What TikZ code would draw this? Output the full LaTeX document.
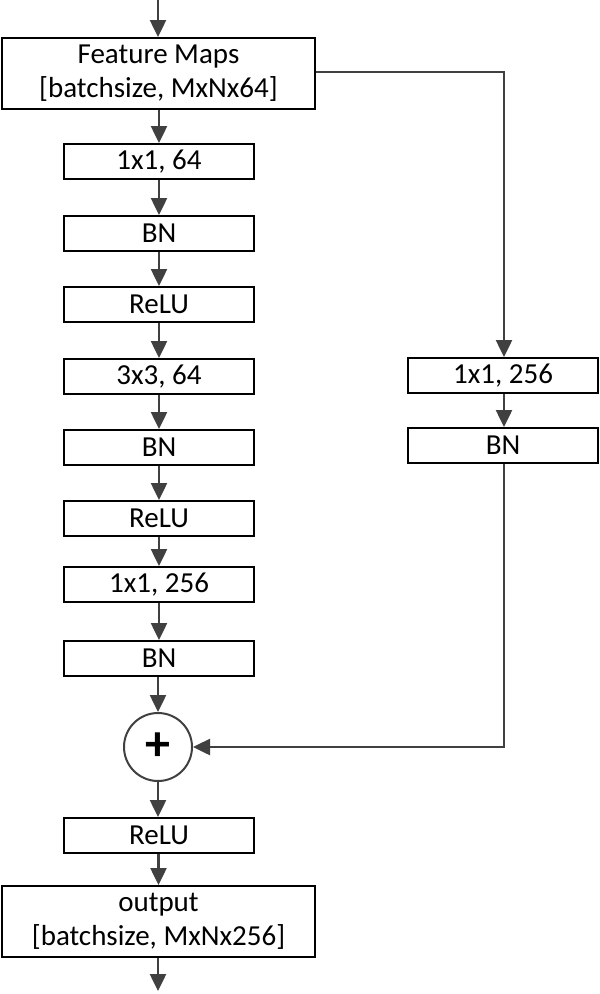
\documentclass[tikz,border=0pt]{standalone}
\usepackage{fontspec}
\setmainfont{Carlito}
\usetikzlibrary{arrows.meta}
\begin{document}
\begin{tikzpicture}[x=1pt,y=-1pt,
  blk/.style={draw=black,line width=2pt,fill=white,minimum width=190pt,minimum height=35pt,inner sep=0pt,font=\fontsize{29}{34}\selectfont,anchor=north},
  bigblk/.style={blk,minimum width=313pt,minimum height=71pt,align=center},
  conn/.style={draw=black!75,line width=2.5pt,-{Triangle[width=16pt,length=17pt]}},
  plain/.style={draw=black!75,line width=2.5pt}]
\useasboundingbox (0,0) rectangle (600,994);
\coordinate (top) at (158,0);
\node[bigblk] (fm) at (158.5,37) {Feature Maps\\[0pt][batchsize, MxNx64]};
\node[blk] (c1) at (159,143) {1x1, 64};
\node[blk] (b1) at (159,215) {BN};
\node[blk] (r1) at (159,286) {ReLU};
\node[blk] (c2) at (159,358) {3x3, 64};
\node[blk] (b2) at (159,429) {BN};
\node[blk] (r2) at (159,500) {ReLU};
\node[blk] (c3) at (159,566) {1x1, 256};
\node[blk] (b3) at (159,640) {BN};
\node[draw=black!75,line width=2pt,circle,minimum size=68pt,inner sep=0pt,font=\fontsize{50}{50}\selectfont\bfseries] (add) at (158,747) {+};
\node[blk] (r3) at (159,817) {ReLU};
\node[bigblk] (out) at (158.5,885) {output\\[0pt][batchsize, MxNx256]};
\coordinate (bot) at (158,991);
\node[blk] (sc) at (503,357) {1x1, 256};
\node[blk] (sb) at (503,427) {BN};
\coordinate (k1) at (504,72);
\coordinate (k2) at (504,747);
\draw[conn] (top) -- (fm.north -| top);
\draw[conn] (fm.south -| c1) -- (c1);
\draw[conn] (c1) -- (b1);
\draw[conn] (b1) -- (r1);
\draw[conn] (r1) -- (c2);
\draw[conn] (c2) -- (b2);
\draw[conn] (b2) -- (r2);
\draw[conn] (r2) -- (c3);
\draw[conn] (c3) -- (b3);
\draw[conn] (b3.south -| add) -- (add);
\draw[conn] (add) -- (r3.north -| add);
\draw[conn] (r3.south -| out) -- (out);
\draw[conn] (out.south -| bot) -- (bot);
\draw[conn] (fm.east |- k1) -- (k1) -- (sc.north -| k1);
\draw[conn] (sc.south -| k1) -- (sb.north -| k1);
\draw[conn] (sb.south -| k1) -- (k2) -- (add);
\end{tikzpicture}
\end{document}
